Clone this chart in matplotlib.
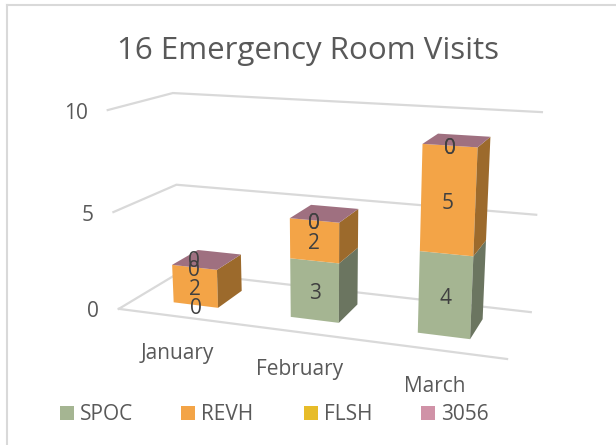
import matplotlib
matplotlib.use("Agg")
import matplotlib.pyplot as plt
import numpy as np
from matplotlib.patches import Polygon, Rectangle

plt.rcParams['font.family'] = ['Open Sans', 'DejaVu Sans']

months = ["January", "February", "March"]
series = ["SPOC", "REVH", "FLSH", "3056"]
spoc = [0, 3, 4]
revh = [2, 2, 5]
flsh = [0, 0, 0]
s3056 = [0, 0, 0]
yticks = [0, 5, 10]

colors = ["#A5B592", "#F3A447", "#E7BC29", "#D092A7"]
sides = ["#6B7560", "#9C6A2C", "#96791A", "#876070"]
tops = ["#7E8A70", "#B97F36", "#B0901F", "#9F7080"]
grid = "#D9D9D9"
txt = "#595959"
lab = "#404040"

# box corners (across, depth, value) -> where they land on the picture
anchors = [
    (0, 0, 0, 119, 309), (1, 0, 0, 507, 359), (0, 1, 0, 180, 272), (1, 1, 0, 531, 312),
    (0, 0, 5, 113, 212), (0, 1, 5, 176, 185), (1, 1, 5, 536, 215),
    (0, 0, 10, 108, 110), (0, 1, 10, 173, 93), (1, 1, 10, 542, 112),
]
A = []
b = []
for u, d, v, px, py in anchors:
    A.append([u, d, v, 1, 0, 0, 0, 0, -px * u, -px * d, -px * v])
    A.append([0, 0, 0, 0, u, d, v, 1, -py * u, -py * d, -py * v])
    b += [px, py]
P = np.linalg.lstsq(np.array(A, float), np.array(b, float), rcond=None)[0]


def proj(u, d, v):
    w = P[8] * u + P[9] * d + P[10] * v + 1
    return ((P[0] * u + P[1] * d + P[2] * v + P[3]) / w,
            (P[4] * u + P[5] * d + P[6] * v + P[7]) / w)


fig = plt.figure(figsize=(6.16, 4.45), dpi=100)
ax = fig.add_axes([0, 0, 1, 1])
ax.set_xlim(0, 616)
ax.set_ylim(445, 0)
ax.axis("off")

# chart frame, only top and left are in view
ax.plot([7, 7], [445, 5], color=grid, lw=1.5)
ax.plot([7, 616], [5, 5], color=grid, lw=1.5)

ax.text(308, 51, "16 Emergency Room Visits", fontsize=22.5, color=txt, ha="center", va="center")

# gridlines, floor and side wall
for t in yticks:
    ax.plot(*zip(proj(0, 0, t), proj(0, 1, t), proj(1, 1, t)), color=grid, lw=1.6, solid_joinstyle="miter")
    x, y = proj(0, 0, t)
    ax.text(x - 20, y + 3, str(t), fontsize=15, color=txt, ha="right", va="center")
ax.plot(*zip(proj(0, 0, 0), proj(1, 0, 0)), color=grid, lw=1.6)

month_pos = [(177, 353), (300, 370), (435, 387)]
for name, (x, y) in zip(months, month_pos):
    ax.text(x, y, name, fontsize=15, color=txt, ha="center", va="center")

half = 0.064
d0, d1 = 0.28, 0.72
data = [spoc, revh, flsh, s3056]
for i in range(len(months)):
    uc = 0.172 + i * 0.3295
    u0, u1 = uc - half, uc + half
    base = 0
    for k in range(len(series)):
        val = data[k][i]
        top = base + val
        if val > 0:
            ax.add_patch(Polygon([proj(u0, d0, base), proj(u1, d0, base), proj(u1, d0, top), proj(u0, d0, top)],
                                 fc=colors[k], ec="none", zorder=3))
            ax.add_patch(Polygon([proj(u1, d0, base), proj(u1, d1, base), proj(u1, d1, top), proj(u1, d0, top)],
                                 fc=sides[k], ec="none", zorder=3))
        base = top
    ax.add_patch(Polygon([proj(u0, d0, base), proj(u1, d0, base), proj(u1, d1, base), proj(u0, d1, base)],
                         fc=tops[3], ec="none", zorder=3))
    # value labels sit on the middle of each front face
    base = 0
    for k in range(len(series)):
        val = data[k][i]
        x, y = proj(uc, d0, base + val / 2)
        if i == 0 and k == 3:
            y -= 9
        ax.text(x, y + 3, str(val), fontsize=15, color=lab, ha="center", va="center", zorder=4)
        base += val

leg_x = [60, 181, 304, 421]
for name, c, x in zip(series, colors, leg_x):
    ax.add_patch(Rectangle((x, 406), 14, 14, fc=c, ec="none"))
    ax.text(x + 20, 415, name, fontsize=15, color=txt, ha="left", va="center")

fig.savefig("out.png", dpi=100)
